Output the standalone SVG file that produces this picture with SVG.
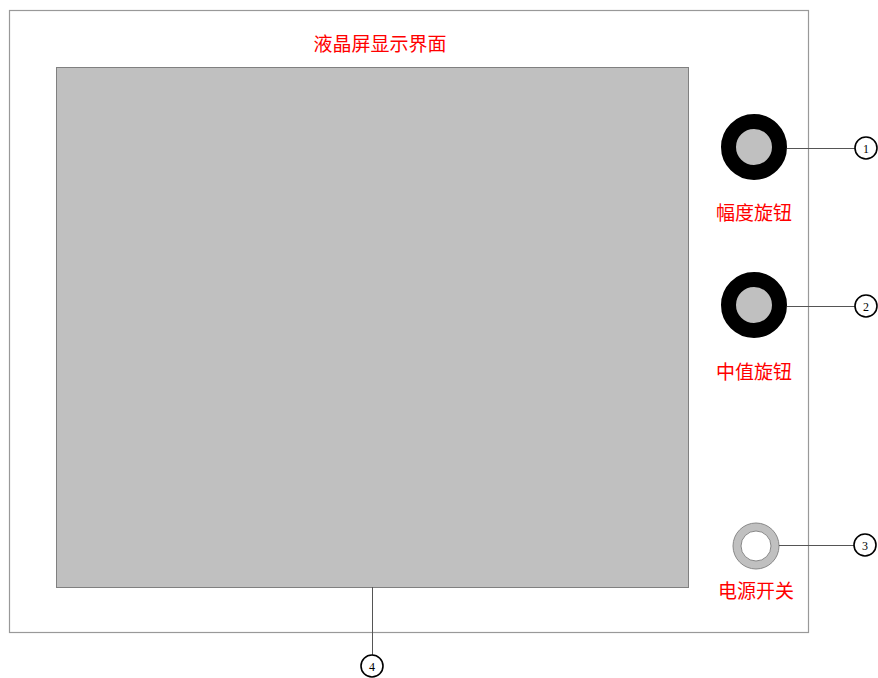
<svg xmlns="http://www.w3.org/2000/svg" width="878" height="678" viewBox="0 0 878 678">
<style>
.lbl{font-family:"Noto Sans CJK SC","Noto Sans",sans-serif;font-size:19px;fill:#ff0000;text-anchor:middle}
.num{font-family:"Liberation Serif",serif;font-size:12px;fill:#000;text-anchor:middle}
.lead{stroke:#555;stroke-width:1;fill:none}
.callout{fill:#fff;stroke:#000;stroke-width:1.6}
</style>
<rect width="878" height="678" fill="#fff"/>
<g id="frame"><rect x="9.5" y="10.5" width="799" height="622" fill="#fff" stroke="#999" stroke-width="1.2"/></g>
<g id="screen">
<rect x="56.5" y="67.5" width="632" height="520" fill="#c0c0c0" stroke="#808080" stroke-width="1"/>
<text class="lbl" x="380" y="51">液晶屏显示界面</text>
</g>
<g id="knob1">
<circle cx="754" cy="147" r="25.5" fill="#c0c0c0" stroke="#000" stroke-width="15"/>
<text class="lbl" x="754" y="220">幅度旋钮</text>
</g>
<g id="knob2">
<circle cx="754" cy="305" r="25.5" fill="#c0c0c0" stroke="#000" stroke-width="15"/>
<text class="lbl" x="754" y="379">中值旋钮</text>
</g>
<g id="switch">
<circle cx="756" cy="546" r="19" fill="#fff" stroke="#c0c0c0" stroke-width="8"/>
<circle cx="756" cy="546" r="23" fill="none" stroke="#888" stroke-width="1"/>
<circle cx="756" cy="546" r="15" fill="none" stroke="#888" stroke-width="1"/>
<text class="lbl" x="756" y="598">电源开关</text>
</g>
<g id="connectors">
<line class="lead" x1="787" y1="148.5" x2="855" y2="148.5"/>
<line class="lead" x1="787" y1="306.5" x2="855" y2="306.5"/>
<line class="lead" x1="779" y1="545.5" x2="854" y2="545.5"/>
<line class="lead" x1="372.5" y1="587" x2="372.5" y2="655"/>
</g>
<g id="c1"><circle class="callout" cx="866" cy="148" r="11"/><text class="num" x="866" y="152.5">1</text></g>
<g id="c2"><circle class="callout" cx="866" cy="306" r="11"/><text class="num" x="866" y="310.5">2</text></g>
<g id="c3"><circle class="callout" cx="865" cy="545" r="11"/><text class="num" x="865" y="549.5">3</text></g>
<g id="c4"><circle class="callout" cx="372" cy="666" r="11"/><text class="num" x="372" y="670.5">4</text></g>
</svg>
